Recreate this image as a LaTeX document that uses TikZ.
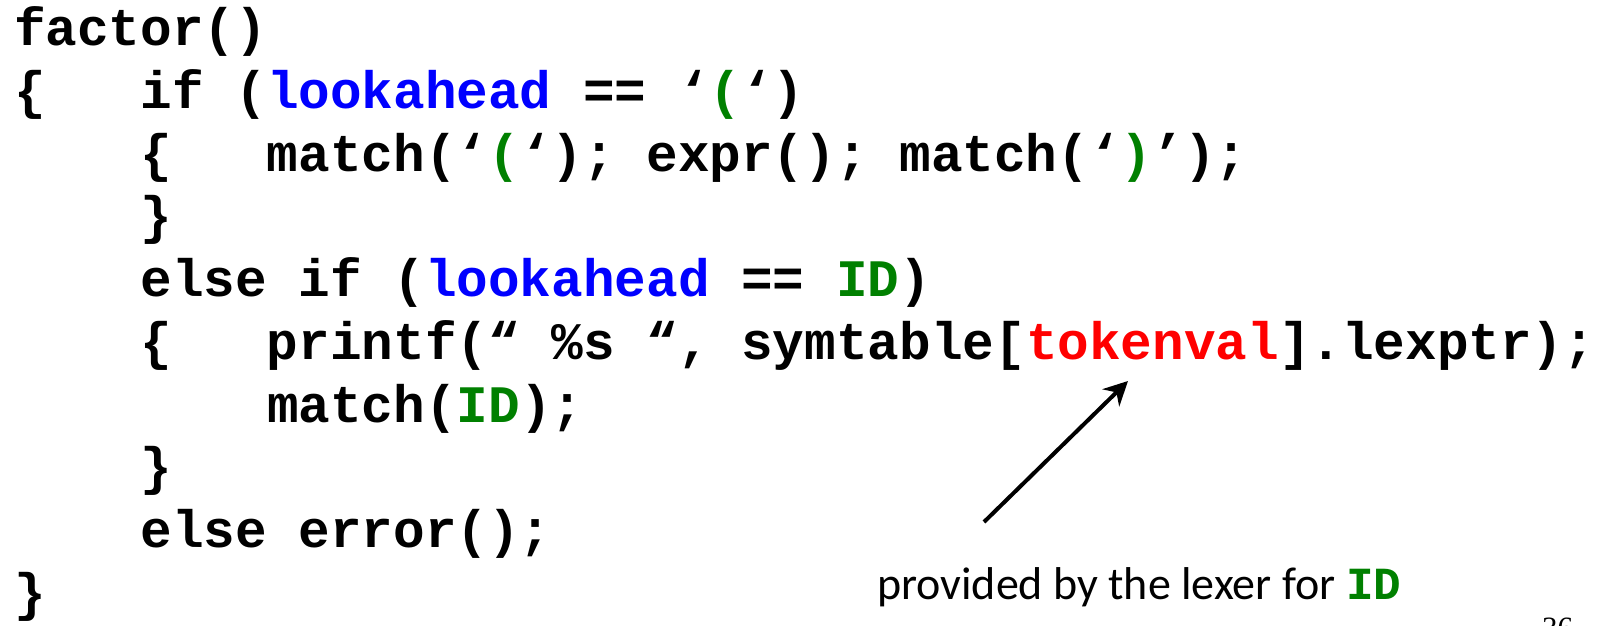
\documentclass[tikz,border=0pt]{standalone}
\usepackage{fontspec}
\newfontfamily\codefont{Liberation Mono}
\newfontfamily\labfont{Carlito}
\newfontfamily\numfont{Liberation Serif}
\usetikzlibrary{arrows.meta}
\definecolor{kwblue}{RGB}{0,0,255}
\definecolor{idgreen}{RGB}{0,128,0}
\definecolor{tokred}{RGB}{255,0,0}
\begin{document}
\begin{tikzpicture}[x=1pt,y=1pt,
  code/.style={anchor=base west, inner sep=0pt, outer sep=0pt,
    font=\codefont\bfseries\fontsize{52.7}{62.8}\selectfont},
  lbl/.style={anchor=base west, inner sep=0pt, outer sep=0pt,
    font=\labfont\fontsize{46}{50}\selectfont},
  pnum/.style={anchor=base west, inner sep=0pt,
    font=\numfont\fontsize{31}{34}\selectfont},
  pointer/.style={line width=4pt, -{Stealth[length=24pt,width=24pt]}}]
\useasboundingbox (0,0) rectangle (1612,-625);
\node[code] (l1) at (14,-45) {factor()};
\node[code] (l2) at (14,-108) {\{\ \ \ if (\textcolor{kwblue}{lookahead} == ‘\textcolor{idgreen}{(}‘)};
\node[code] (l3) at (140.5,-171) {\{\ \ \ match(‘\textcolor{idgreen}{(}‘); expr(); match(‘\textcolor{idgreen}{)}’);};
\node[code] (l4) at (140.5,-233) {\}};
\node[code] (l5) at (140.5,-296) {else if (\textcolor{kwblue}{lookahead} == \textcolor{idgreen}{ID})};
\node[code] (l6a) at (140.5,-359) {\{\ \ \ printf(“ \%s “, symtable[};
\node[code, text=tokred] (tok) at (l6a.base east) {tokenval};
\node[code] (l6b) at (tok.base east) {].lexptr);};
\node[code] (l7) at (267,-422) {match(\textcolor{idgreen}{ID});};
\node[code] (l8) at (140.5,-484) {\}};
\node[code] (l9) at (140.5,-547) {else error();};
\node[code] (l10) at (14,-610) {\}};
\node[lbl] (lab) at (877,-599) {provided by the lexer for \textcolor{idgreen}{\codefont\bfseries ID}};
\node[pnum] (pg) at (1542,-638) {36};
\coordinate (tail) at (984,-522);
\coordinate (tip) at (1128,-381);
\draw[pointer] (tail) -- (tip);
\end{tikzpicture}
\end{document}
